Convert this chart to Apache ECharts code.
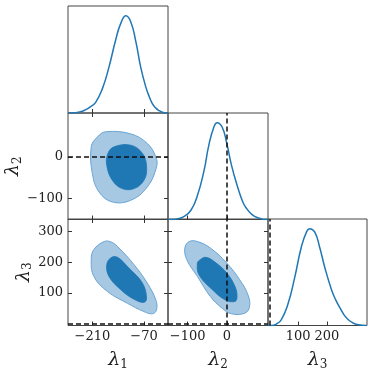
<!DOCTYPE html>
<html>
<head>
<meta charset="utf-8">
<script src="https://cdn.jsdelivr.net/npm/echarts@6/dist/echarts.min.js"></script>
<style>
  html, body { margin: 0; padding: 0; background: #fff; }
  #main { width: 374px; height: 375px; }
</style>
</head>
<body>
<div id="main"></div>
<script>
// axis ranges and ticks
const lam1Range = [-276, -5]
const lam2Range = [-150, 105]
const lam3Range = [-5, 340]
const lam1Ticks = [-210, -70]
const lam2Ticks = [-100, 0]
const lam3TicksY = [100, 200, 300]
const lam3TicksX = [100, 200]
const truthL2 = 0
const truthL3 = 0

// 1D marginals (peak normalised to 1)
const lam1X = [-276, -264, -245, -228, -215, -201, -183, -165, -147, -133, -119, -106, -92, -79, -65, -56, -47, -38, -29, -20, -11, -5]
const lam1Y = [0, 0, 0.01, 0.034, 0.065, 0.11, 0.248, 0.472, 0.748, 0.921, 1, 0.938, 0.731, 0.472, 0.266, 0.17, 0.093, 0.05, 0.024, 0.008, 0, 0]
const lam2X = [-150, -142, -127, -112, -92, -75, -58, -46, -33, -25, -12, 0, 12, 25, 41, 52, 62, 72, 83, 96, 105]
const lam2Y = [0, 0, 0.006, 0.024, 0.093, 0.248, 0.507, 0.766, 0.955, 1, 0.955, 0.783, 0.559, 0.369, 0.179, 0.105, 0.059, 0.03, 0.014, 0, 0]
const lam3X = [-5, 6, 24, 41, 64, 88, 111, 129, 140, 158, 175, 193, 216, 231, 246, 260, 275, 292, 310, 339]
const lam3Y = [0, 0, 0.015, 0.059, 0.216, 0.495, 0.808, 0.965, 1, 0.965, 0.808, 0.599, 0.373, 0.265, 0.181, 0.11, 0.059, 0.025, 0.007, 0]

// 2D credible regions, [x, y] vertices
const c12Outer = [[-196, 48], [-174, 60], [-106, 55], [-61, 32], [-38, 0], [-36, -24], [-61, -72],
  [-106, -104], [-156, -108], [-192, -84], [-210, -40], [-213, 24]]
const c12Inner = [[-151, 24], [-106, 28], [-74, 8], [-63, -24], [-70, -56], [-97, -76],
  [-129, -76], [-156, -56], [-171, -20], [-168, 8]]
const c13Outer = [[-178, 267], [-206, 241], [-213, 208], [-206, 154], [-169, 105], [-115, 67],
  [-70, 40], [-47, 33], [-36, 46], [-38, 78], [-61, 132], [-97, 192], [-142, 251], [-160, 266]]
const c13Inner = [[-160, 214], [-142, 216], [-111, 181], [-74, 132], [-63, 84], [-70, 70],
  [-97, 80], [-133, 111], [-165, 154], [-171, 192]]
const c23Outer = [[-96, 267], [-107, 246], [-102, 208], [-75, 154], [-42, 89], [-12, 51],
  [12, 33], [46, 35], [58, 56], [54, 94], [33, 143], [0, 197], [-42, 246], [-75, 267]]
const c23Inner = [[-68, 208], [-75, 197], [-71, 159], [-37, 111], [-4, 78], [21, 73],
  [26, 89], [21, 121], [0, 165], [-33, 203], [-54, 216]]

const chart = echarts.init(document.getElementById('main'))

const SERIF = 'DejaVu Serif'
const INK = '#222'
const cols = [68, 168, 268]
const rows = [6, 113, 219]
const size = 100

function grid(c, r) {
  return { left: cols[c], top: rows[r], width: c === 2 ? 99 : size, height: r === 0 ? 107 : 106.5,
    show: true, borderColor: '#444', borderWidth: 1, backgroundColor: 'transparent' }
}

function lamName(n) {
  return '{l|λ}{s|' + n + '}'
}
const nameStyle = {
  rich: {
    l: { fontSize: 19, fontFamily: SERIF, fontStyle: 'italic', color: INK },
    s: { fontSize: 12, fontFamily: SERIF, color: INK, padding: [9, 0, 0, 0] }
  }
}
const fmt = v => String(v).replace('-', '\u2212')

function axis(gi, range, ticks, opt) {
  opt = opt || {}
  const a = {
    gridIndex: gi, type: 'value', min: range[0], max: range[1],
    position: opt.position,
    splitLine: { show: false },
    axisLine: { show: false, onZero: false },
    axisTick: { show: !!ticks, inside: true, length: 4, lineStyle: { color: '#333', width: 1 },
      customValues: ticks || [] },
    axisLabel: { show: !!opt.labels, customValues: ticks || [], formatter: fmt, margin: 5,
      fontFamily: SERIF, fontSize: 13, color: INK }
  }
  if (opt.name) {
    a.name = opt.name
    a.nameLocation = 'middle'
    a.nameGap = opt.gap
    a.nameTextStyle = nameStyle
  }
  return a
}

const densRange = [0, 1.1]

const xAxes = [
  axis(0, lam1Range, lam1Ticks),
  axis(1, lam1Range, lam1Ticks),
  axis(1, lam1Range, lam1Ticks, { position: 'top' }),
  axis(2, lam2Range, lam2Ticks),
  axis(3, lam1Range, lam1Ticks, { labels: true, name: lamName(1), gap: 24 }),
  axis(3, lam1Range, lam1Ticks, { position: 'top' }),
  axis(4, lam2Range, lam2Ticks, { labels: true, name: lamName(2), gap: 24 }),
  axis(5, lam3Range, lam3TicksX, { labels: true, name: lamName(3), gap: 24 })
]
const yAxes = [
  axis(0, densRange, null),
  axis(1, lam2Range, lam2Ticks, { labels: true, name: lamName(2), gap: 44 }),
  axis(1, lam2Range, lam2Ticks, { position: 'right' }),
  axis(2, densRange, null),
  axis(3, lam3Range, lam3TicksY, { labels: true, name: lamName(3), gap: 29 }),
  axis(3, lam3Range, lam3TicksY, { position: 'right' }),
  axis(4, lam3Range, lam3TicksY),
  axis(4, lam3Range, lam3TicksY, { position: 'right' }),
  axis(5, densRange, null)
]

const dash = { color: '#111', width: 1.5, type: [5, 3] }
function truthLines(list) {
  return { silent: true, symbol: 'none', label: { show: false }, lineStyle: dash, data: list }
}

function marginal(xi, yi, xs, ys, ml) {
  return {
    type: 'line', xAxisIndex: xi, yAxisIndex: yi,
    data: xs.map((x, i) => [x, ys[i]]),
    smooth: 0.5, showSymbol: false, silent: true,
    lineStyle: { color: '#1f77b4', width: 1.5 },
    markLine: ml ? truthLines(ml) : undefined
  }
}

function region(xi, yi, pts, inner, ml) {
  return {
    type: 'custom', xAxisIndex: xi, yAxisIndex: yi, silent: true,
    data: pts, encode: { x: 0, y: 1 },
    renderItem: function (params, api) {
      if (params.dataIndex !== 0) return
      const poly = pts.map(p => api.coord(p))
      return {
        type: 'polygon',
        shape: { points: poly, smooth: 0.4 },
        style: inner
          ? { fill: '#1f77b4', stroke: '#1f77b4', lineWidth: 0.8 }
          : { fill: '#a6c8e3', stroke: '#6aa5d4', lineWidth: 1 }
      }
    },
    markLine: ml ? truthLines(ml) : undefined
  }
}

chart.setOption({
  animation: false,
  backgroundColor: '#fff',
  grid: [grid(0, 0), grid(0, 1), grid(1, 1), grid(0, 2), grid(1, 2), grid(2, 2)],
  xAxis: xAxes,
  yAxis: yAxes,
  series: [
    marginal(0, 0, lam1X, lam1Y),
    region(1, 1, c12Outer, false),
    region(1, 1, c12Inner, true, [{ yAxis: truthL2 }]),
    marginal(3, 3, lam2X, lam2Y, [{ xAxis: truthL2 }]),
    region(4, 4, c13Outer, false),
    region(4, 4, c13Inner, true, [{ yAxis: truthL3 }]),
    region(6, 6, c23Outer, false),
    region(6, 6, c23Inner, true, [{ yAxis: truthL3 }, { xAxis: truthL2 }]),
    marginal(7, 8, lam3X, lam3Y, [{ xAxis: truthL3 }])
  ]
})

window.addEventListener('resize', chart.resize)
</script>
</body>
</html>
